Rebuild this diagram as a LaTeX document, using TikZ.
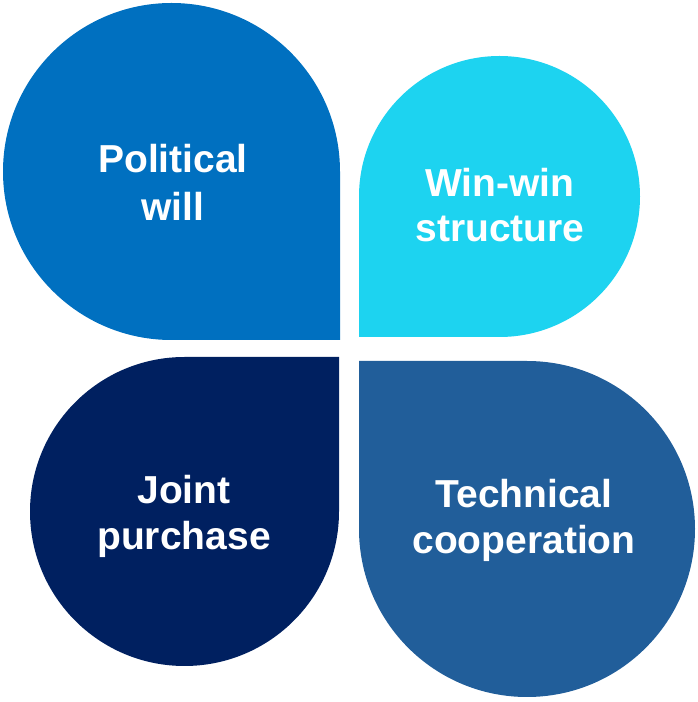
\documentclass[tikz,border=0pt]{standalone}
\usepackage{fontspec}
\setmainfont{Liberation Sans}
\definecolor{petalA}{RGB}{0,112,192}
\definecolor{petalB}{RGB}{29,211,240}
\definecolor{petalC}{RGB}{0,32,96}
\definecolor{petalD}{RGB}{33,94,154}
\tikzset{
  petaltext/.style={anchor=base, text=white, font=\fontsize{39}{45}\selectfont\bfseries, inner sep=0pt}
}
\begin{document}
\begin{tikzpicture}[x=1pt,y=1pt]
\useasboundingbox (0,0) rectangle (697,702);
% top-left
\fill[petalA] (340,362) -- (340,530.5) arc[start angle=0,end angle=270,radius=168.5] -- cycle;
% top-right
\fill[petalB] (359,365) -- (499.5,365) arc[start angle=-90,end angle=180,radius=140.5] -- cycle;
% bottom-left
\fill[petalC] (339,345) -- (184.5,345) arc[start angle=90,end angle=360,radius=154.5] -- cycle;
% bottom-right
\fill[petalD] (359,341) -- (359,173) arc[start angle=180,end angle=450,radius=168] -- cycle;
\node[petaltext] (pw1) at (173,529) {Political};
\node[petaltext] (pw2) at (173,481) {will};
\node[petaltext] (ww1) at (500,505) {Win-win};
\node[petaltext] (ww2) at (500,460) {structure};
\node[petaltext] (jp1) at (184,198) {Joint};
\node[petaltext] (jp2) at (184,152) {purchase};
\node[petaltext] (tc1) at (524,194) {Technical};
\node[petaltext] (tc2) at (524,148) {cooperation};
\end{tikzpicture}
\end{document}
